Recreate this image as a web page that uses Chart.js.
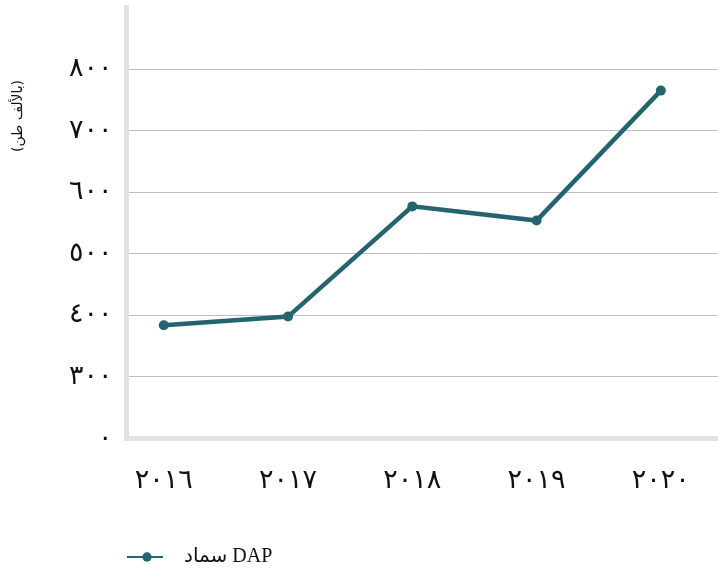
<!DOCTYPE html>
<html>
<head>
<meta charset="utf-8">
<script src="https://cdn.jsdelivr.net/npm/chart.js@4/dist/chart.umd.min.js"></script>
<style>
  body { margin: 0; background: #fff; }
  #wrap { width: 718px; height: 572px; }
</style>
</head>
<body>
<div id="wrap"><canvas id="myChart"></canvas></div>
<script>
// data
const years = [2016, 2017, 2018, 2019, 2020];
const xLabels = ['٢٠١٦', '٢٠١٧', '٢٠١٨', '٢٠١٩', '٢٠٢٠'];
const dapValues = [384, 398, 577, 554, 765];
const yTickValues = [200, 300, 400, 500, 600, 700, 800];
const yTickLabels = ['٠', '٣٠٠', '٤٠٠', '٥٠٠', '٦٠٠', '٧٠٠', '٨٠٠'];
const seriesName = 'سماد DAP';
const yTitle = '(بالألف طن)';

const lineColor = '#23646f';

// legend marker: short line with a dot (left part of the image is empty space)
const marker = document.createElement('canvas');
marker.width = 164;
marker.height = 12;
const mctx = marker.getContext('2d');
mctx.strokeStyle = lineColor;
mctx.lineWidth = 2;
mctx.beginPath();
mctx.moveTo(117, 6);
mctx.lineTo(153, 6);
mctx.stroke();
mctx.fillStyle = lineColor;
mctx.beginPath();
mctx.arc(137, 6, 4.7, 0, Math.PI * 2);
mctx.fill();

// y axis title drawn at the top left
const yTitlePlugin = {
    id: 'yTitle',
    afterDraw(chart) {
        const ctx = chart.ctx;
        ctx.save();
        ctx.translate(18, 116);
        ctx.rotate(-Math.PI / 2);
        ctx.textAlign = 'center';
        ctx.textBaseline = 'middle';
        ctx.fillStyle = '#111';
        ctx.font = '14px "DejaVu Sans", sans-serif';
        ctx.fillText(yTitle, 0, 0);
        ctx.restore();
    }
};

const canvas = document.getElementById('myChart').getContext('2d');

const myChart = new Chart(canvas, {
    type: 'line',
    data: {
        datasets: [{
            label: seriesName,
            data: years.map((y, i) => ({ x: y, y: dapValues[i] })),
            borderColor: lineColor,
            backgroundColor: lineColor,
            borderWidth: 4.5,
            pointRadius: 5,
            pointHoverRadius: 5,
            pointBorderWidth: 0,
            tension: 0
        }]
    },
    options: {
        responsive: true,
        maintainAspectRatio: false,
        animation: false,
        layout: { autoPadding: false, padding: { left: 0, top: 7.5, right: 0, bottom: -5 } },
        plugins: {
            legend: {
                position: 'bottom',
                align: 'start',
                labels: {
                    usePointStyle: true,
                    pointStyle: marker,
                    pointStyleWidth: 164,
                    padding: 10,
                    color: '#111',
                    font: { family: '"Liberation Serif", "DejaVu Sans", serif', size: 20 }
                }
            },
            tooltip: { enabled: false }
        },
        scales: {
            x: {
                type: 'linear',
                min: 2015.70,
                max: 2020.46,
                afterBuildTicks: scale => { scale.ticks = years.map(v => ({ value: v })); },
                afterFit: scale => {
                    scale.height = 98.5;
                    scale.paddingLeft = 0;
                    scale.paddingRight = 0;
                },
                grid: { display: false, drawTicks: false, tickLength: 0 },
                border: { display: true, color: '#e2e2e2', width: 5 },
                ticks: {
                    padding: 26,
                    maxRotation: 0,
                    color: '#111',
                    font: { family: '"DejaVu Sans", sans-serif', size: 27 },
                    callback: value => xLabels[years.indexOf(value)]
                }
            },
            y: {
                type: 'linear',
                min: 200,
                max: 900,
                afterBuildTicks: scale => { scale.ticks = yTickValues.map(v => ({ value: v })); },
                afterFit: scale => {
                    scale.width = 126.5;
                    scale.paddingTop = 0;
                    scale.paddingBottom = 0;
                },
                grid: {
                    drawTicks: false,
                    tickLength: 0,
                    lineWidth: 1,
                    color: ctx => (ctx.tick && ctx.tick.value === 200) ? 'rgba(0,0,0,0)' : '#bdbdbd'
                },
                border: { display: true, color: '#e2e2e2', width: 5 },
                ticks: {
                    padding: 14,
                    color: '#111',
                    font: { family: '"DejaVu Sans", sans-serif', size: 27 },
                    callback: value => yTickLabels[yTickValues.indexOf(value)]
                }
            }
        }
    },
    plugins: [yTitlePlugin]
});
</script>
</body>
</html>
